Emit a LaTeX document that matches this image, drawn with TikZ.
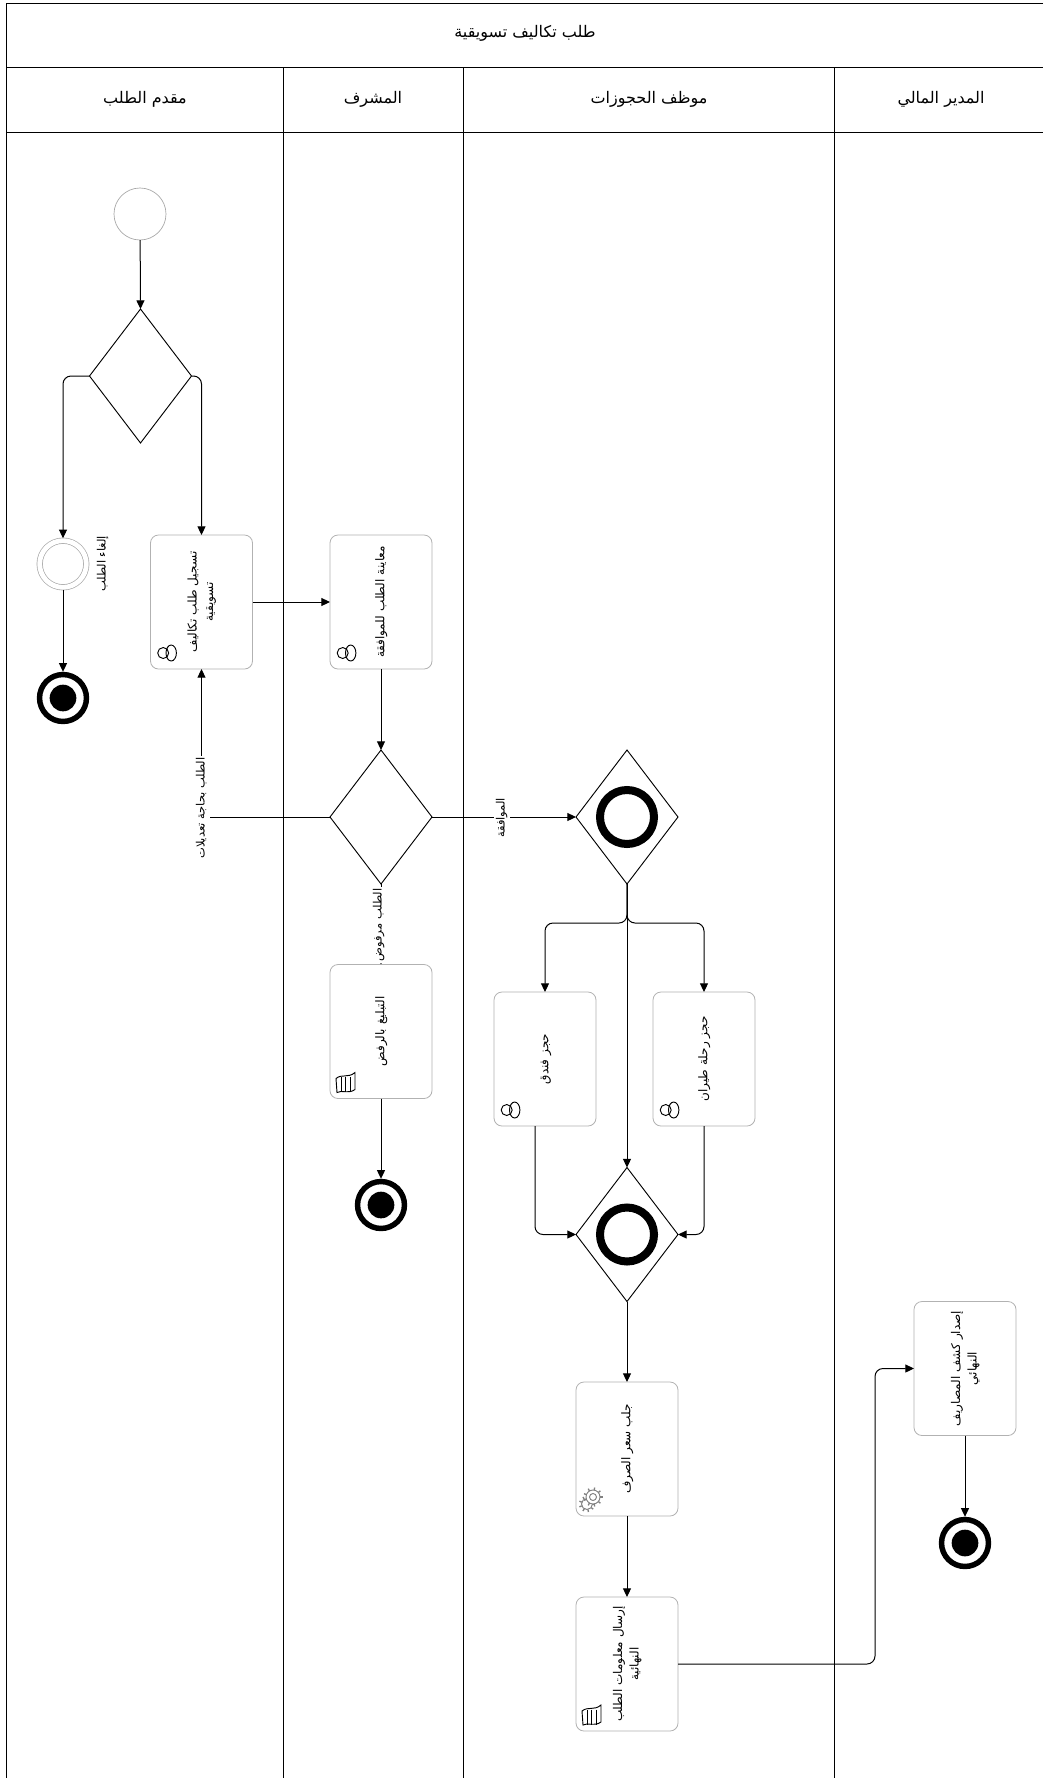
\documentclass[tikz,border=0pt]{standalone}
\usepackage{fontspec}
\usepackage{graphicx}
\usetikzlibrary{arrows.meta,shapes.geometric}
\TeXXeTstate=1
\newfontfamily\arabicfont[Script=Arabic]{DejaVu Sans}
\newcommand{\artxt}[1]{\beginR #1\endR}
\newcommand{\vtxt}[1]{\rotatebox{90}{\begin{tabular}{@{}c@{}}#1\end{tabular}}}
\tikzset{
  pics/usericon/.style={code={
    \draw[line width=.7pt] (12.7,-16) circle (5.5);
    \draw[line width=.7pt] (20.7,-16) ellipse (5.2 and 8);
  }},
  pics/scrollicon/.style={code={
    \draw[line width=.7pt] (6,-20) .. controls (12,-25) and (18,-20) .. (25,-26) -- (25,-9) .. controls (18,-4) and (12,-9) .. (7,-6) -- cycle;
    \foreach \xv in {11,15.5,20} \draw[line width=.7pt] (\xv,-21.5) -- (\xv,-6.5);
  }},
  pics/gearicon/.style={code={
    \foreach \gx/\gy/\gr in {11/-12/5.5,17/-19/7} {
      \foreach \ang in {0,40,...,320} \draw[gray,line width=1pt] ([shift={(\gx,\gy)}]\ang:\gr) -- ([shift={(\gx,\gy)}]\ang:\gr+2.6);
      \draw[gray,fill=white] (\gx,\gy) circle (\gr);
    }
    \draw[gray] (17,-19) circle (3.5);
  }}
}
\begin{document}
\begin{tikzpicture}[x=.75pt,y=-.75pt,
  line width=.7pt,
  head/.style={font=\arabicfont\fontsize{12}{14}\selectfont,inner sep=0pt},
  task/.style={draw=gray!60,line width=.6pt,rounded corners=6pt,minimum width=76.5pt,minimum height=100.5pt,inner sep=0pt,outer sep=0pt,align=center,font=\arabicfont\fontsize{9}{12.5}\selectfont},
  gate/.style={draw,shape=diamond,aspect=.76,minimum width=76.5pt,minimum height=100.5pt,inner sep=0pt,outer sep=0pt},
  ring/.style={line width=6pt},
  startev/.style={draw=gray!70,line width=.5pt,circle,minimum size=39pt,inner sep=0pt,outer sep=0pt},
  cancelev/.style={draw=gray!70,line width=.5pt,circle,double=white,double distance=3.6pt,minimum size=35pt,inner sep=0pt,outer sep=1.8pt},
  endev/.style={draw,circle,line width=4.1pt,minimum size=35.2pt,inner sep=0pt,path picture={\fill (path picture bounding box.center) circle (10pt);}},
  lbl/.style={font=\arabicfont\fontsize{8.6}{10}\selectfont,fill=white,inner sep=1pt},
  arr/.style={-{Triangle[length=6.5pt,width=6pt]},line width=.75pt},
  elbow/.style={arr,rounded corners=6pt}]
\useasboundingbox (0,0) rectangle (1043,1778);
\fill[white] (0,0) rectangle (1043,1778);
% frame and lanes
\draw (1043,3) -- (6.6,3) -- (6.6,1778);
\draw (6.6,67) -- (1043,67);
\draw (6.6,132) -- (1043,132);
\foreach \lx in {283,463,834} \draw (\lx,67) -- (\lx,1778);
\node[head] (title) at (525,33) {\artxt{طلب تكاليف تسويقية}};
\node[head] (lanea) at (145,99) {\artxt{مقدم الطلب}};
\node[head] (laneb) at (373,99) {\artxt{المشرف}};
\node[head] (lanec) at (649,99) {\artxt{موظف الحجوزات}};
\node[head] (laned) at (941,99) {\artxt{المدير المالي}};
% requester
\node[startev] (start) at (140,214) {};
\node[gate] (dec1) at (140.5,376) {};
\node[cancelev] (cancel) at (63,564) {};
\node[endev] (endcancel) at (63,698) {};
\node[task] (register) at (201.5,602) {\vtxt{\artxt{تسجيل طلب تكاليف}\\\artxt{تسويقية}}};
\pic at (register.south west) {usericon};
% supervisor
\node[task] (review) at (381,602) {\vtxt{\artxt{معاينة الطلب للموافقة}}};
\pic at (review.south west) {usericon};
\node[gate] (dec2) at (381,817) {};
\node[task] (notify) at (381,1031.5) {\vtxt{\artxt{التبليغ بالرفض}}};
\pic at (notify.south west) {scrollicon};
\node[endev] (endreject) at (381,1205) {};
% bookings
\node[gate] (gwsplit) at (627,817) {};
\draw[ring] (gwsplit.center) circle (27);
\coordinate (splitpt) at (627,923);
\node[task] (hotel) at (545,1059) {\vtxt{\artxt{حجز فندق}}};
\pic at (hotel.south west) {usericon};
\node[task] (flight) at (704,1059) {\vtxt{\artxt{حجز رحلة طيران}}};
\pic at (flight.south west) {usericon};
\node[gate] (gwjoin) at (627,1234.5) {};
\draw[ring] (gwjoin.center) circle (27);
\node[task] (rate) at (627,1449) {\vtxt{\artxt{جلب سعر الصرف}}};
\pic at (rate.south west) {gearicon};
\node[task] (send) at (627,1664) {\vtxt{\artxt{إرسال معلومات الطلب}\\\artxt{النهائية}}};
\pic at (send.south west) {scrollicon};
% finance
\coordinate (sendbend) at (875,1500);
\node[task] (final) at (965,1368.5) {\vtxt{\artxt{إصدار كشف المصاريف}\\\artxt{النهائي}}};
\node[endev] (endfinal) at (965,1543) {};
% flows
\draw[arr] (start) -- (dec1.north);
\draw[elbow] (dec1.west) -| (cancel.north);
\draw[elbow] (dec1.east) -| (register.north);
\draw[arr] (cancel) -- (endcancel);
\draw[arr] (register.east |- review.west) -- (review.west);
\draw[arr] (review.south) -- (dec2.north);
\draw[arr] (dec2.west) -| (register.south);
\draw[arr] (dec2.east) -- (gwsplit.west);
\draw[arr] (dec2.south) -- (notify.north);
\draw[arr] (notify.south) -- (endreject);
\draw[elbow] (gwsplit.south) -- (splitpt) -| (hotel.north);
\draw[elbow] (gwsplit.south) -- (splitpt) -| (flight.north);
\draw[arr] (gwsplit.south) -- (gwjoin.north);
\draw[elbow] ([xshift=-7.5pt]hotel.south) |- (gwjoin.west);
\draw[elbow] (flight.south) |- (gwjoin.east);
\draw[arr] (gwjoin.south) -- (rate.north);
\draw[arr] (rate.south) -- (send.north);
\draw[elbow] (send.east) -| (sendbend) |- (final.west);
\draw[arr] (final.south) -- (endfinal);
% flow labels
\node[lbl,fill=none,inner sep=0pt] (lblcancel) at (103,564) {\vtxt{\artxt{إلغاء الطلب}}};
\node[lbl] (lblchange) at (202,808) {\vtxt{\artxt{الطلب بحاجة تعديلات}}};
\node[lbl] (lblapprove) at (502,818) {\vtxt{\artxt{الموافقة}}};
\node[lbl] (lblreject) at (379,925) {\vtxt{\artxt{الطلب مرفوض}}};
\end{tikzpicture}
\end{document}
